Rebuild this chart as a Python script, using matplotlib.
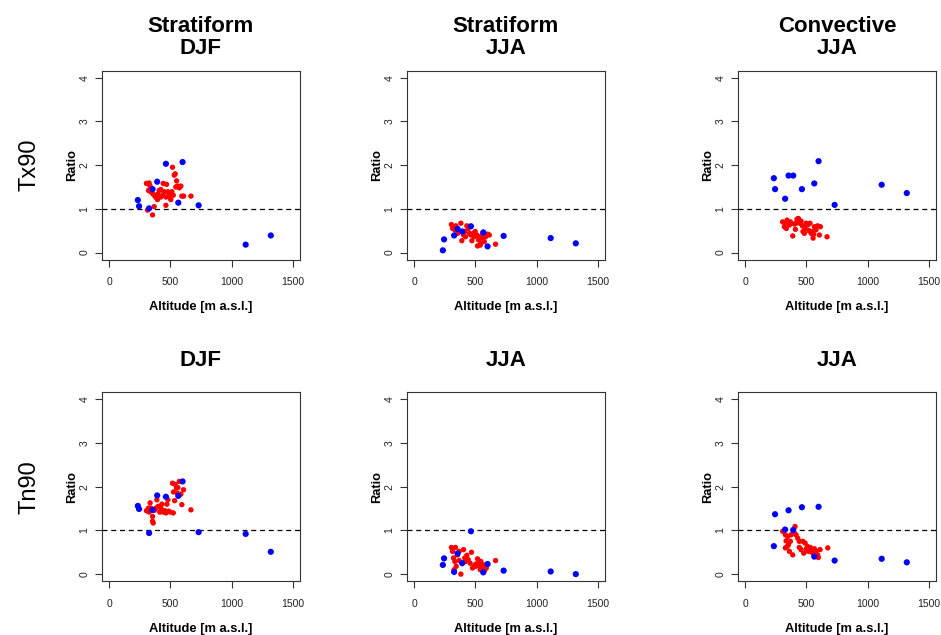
import matplotlib
matplotlib.use("Agg")
import matplotlib.pyplot as plt

plt.rcParams['font.family'] = ['Liberation Sans', 'DejaVu Sans']

# station altitudes (blue group, same 11 stations in every panel)
blue_alt = [235, 245, 327, 355, 393, 464, 565, 600, 731, 1115, 1320]

blue_tx_djf = [1.20, 1.06, 1.01, 1.45, 1.62, 2.03, 1.14, 2.07, 1.08, 0.18, 0.39]
blue_tx_jja = [0.05, 0.30, 0.39, 0.54, 0.48, 0.60, 0.46, 0.14, 0.38, 0.33, 0.21]
blue_tx_conv = [1.70, 1.45, 1.23, 1.76, 1.76, 1.45, 1.58, 2.09, 1.09, 1.55, 1.36]
blue_tn_djf = [1.56, 1.49, 0.94, 1.47, 1.80, 1.77, 1.79, 2.12, 0.96, 0.92, 0.51]
blue_tn_jja = [0.21, 0.36, 0.05, 0.47, 0.25, 0.98, 0.04, 0.23, 0.08, 0.06, 0.00]
blue_tn_conv = [0.64, 1.37, 1.02, 1.46, 1.01, 1.53, 0.40, 1.54, 0.31, 0.35, 0.27]

# red group, per panel
red_tx_djf_alt = [305, 327, 335, 322, 341, 355, 368, 382, 395, 409, 423, 442, 450, 464,
                  469, 480, 491, 504, 518, 524, 532, 540, 545, 551, 559, 573, 586, 594,
                  608, 668, 464, 368, 314, 355, 423, 491, 436, 341, 395, 513]
red_tx_djf = [1.58, 1.59, 1.52, 1.42, 1.39, 1.35, 1.31, 1.26, 1.33, 1.42, 1.44, 1.58, 1.39, 1.27,
              1.56, 1.39, 1.27, 1.21, 1.95, 1.31, 1.77, 1.80, 1.50, 1.64, 1.52, 1.48, 1.52, 1.29,
              1.29, 1.29, 1.08, 1.05, 0.97, 0.86, 1.27, 1.35, 1.31, 1.48, 1.21, 1.39]

red_tx_jja_alt = [305, 322, 333, 341, 355, 368, 382, 390, 404, 414, 431, 442, 453, 464,
                  472, 485, 499, 513, 518, 526, 535, 545, 554, 562, 573, 584, 600, 614,
                  665, 314, 349, 420, 491, 540]
red_tx_jja = [0.64, 0.59, 0.52, 0.61, 0.44, 0.48, 0.67, 0.27, 0.40, 0.48, 0.61, 0.55, 0.44, 0.40,
              0.27, 0.44, 0.48, 0.40, 0.15, 0.29, 0.36, 0.21, 0.33, 0.44, 0.25, 0.36, 0.42, 0.40,
              0.19, 0.55, 0.54, 0.36, 0.36, 0.17]

red_tx_conv_alt = [307, 327, 343, 321, 337, 354, 370, 389, 403, 411, 424, 435, 446, 457,
                   468, 473, 484, 498, 511, 522, 530, 539, 547, 555, 566, 579, 593, 607,
                   615, 669, 362, 416, 490, 560]
red_tx_conv = [0.70, 0.68, 0.74, 0.59, 0.55, 0.67, 0.70, 0.38, 0.65, 0.53, 0.76, 0.78, 0.67, 0.72,
               0.61, 0.48, 0.44, 0.67, 0.63, 0.50, 0.67, 0.44, 0.48, 0.33, 0.59, 0.52, 0.61, 0.40,
               0.59, 0.36, 0.63, 0.67, 0.55, 0.42]

red_tn_djf_alt = [305, 322, 335, 327, 341, 355, 355, 360, 382, 390, 401, 414, 431, 442,
                  453, 464, 472, 480, 485, 499, 518, 524, 526, 535, 540, 551, 562, 573,
                  586, 594, 608, 668, 423, 458, 371, 559]
red_tn_djf = [1.45, 1.51, 1.63, 1.42, 1.51, 1.32, 1.21, 1.17, 1.51, 1.70, 1.55, 1.42, 1.60, 1.42,
              1.45, 1.40, 1.60, 1.70, 1.44, 1.42, 2.08, 1.40, 1.88, 1.68, 2.05, 1.97, 1.98, 2.12,
              1.83, 1.59, 1.93, 1.47, 1.51, 1.44, 1.46, 1.85]

red_tn_jja_alt = [305, 338, 322, 333, 344, 327, 355, 368, 382, 404, 414, 431, 442, 458,
                  469, 477, 491, 504, 518, 526, 535, 545, 554, 567, 578, 589, 665, 314,
                  368, 420, 504, 540]
red_tn_jja = [0.61, 0.61, 0.37, 0.29, 0.18, 0.10, 0.44, 0.31, 0.00, 0.56, 0.37, 0.43, 0.33, 0.25,
              0.50, 0.14, 0.18, 0.23, 0.35, 0.25, 0.18, 0.29, 0.14, 0.21, 0.10, 0.14, 0.31, 0.52,
              0.52, 0.29, 0.18, 0.10]

red_tn_conv_alt = [307, 329, 348, 335, 329, 343, 354, 362, 389, 375, 403, 408, 416, 430,
                   443, 457, 471, 479, 490, 500, 511, 525, 533, 544, 552, 566, 579, 593,
                   598, 612, 675, 370, 443, 517]
red_tn_conv = [0.98, 0.90, 0.86, 0.76, 0.60, 0.63, 0.67, 0.52, 0.44, 0.90, 0.94, 1.09, 0.90, 0.82,
               0.61, 0.56, 0.75, 0.48, 0.71, 0.58, 0.63, 0.54, 0.61, 0.56, 0.48, 0.58, 0.53, 0.44,
               0.38, 0.56, 0.60, 0.75, 0.75, 0.52]

titles = [["Stratiform\nDJF", "Stratiform\nJJA", "Convective\nJJA"],
          ["DJF", "JJA", "JJA"]]
row_labels = ["Tx90", "Tn90"]

panels = [
    [(red_tx_djf_alt, red_tx_djf, blue_tx_djf),
     (red_tx_jja_alt, red_tx_jja, blue_tx_jja),
     (red_tx_conv_alt, red_tx_conv, blue_tx_conv)],
    [(red_tn_djf_alt, red_tn_djf, blue_tn_djf),
     (red_tn_jja_alt, red_tn_jja, blue_tn_jja),
     (red_tn_conv_alt, red_tn_conv, blue_tn_conv)],
]

W, H = 941, 635
fig = plt.figure(figsize=(W / 100, H / 100), dpi=100)

lefts = [101.7, 406.7, 737.7]
tops = [70.7, 392.3]
pw, ph = 198.5, 188.8

for r in range(2):
    for c in range(3):
        x0, y0 = lefts[c], tops[r]
        ax = fig.add_axes([x0 / W, 1 - (y0 + ph) / H, pw / W, ph / H])
        ra, rv, bv = panels[r][c]
        ax.axhline(1, color='black', linestyle=(0, (4, 3)), linewidth=0.9, zorder=1)
        ax.scatter(ra, rv, s=15, color='#ff0000', edgecolors='none', zorder=2)
        ax.scatter(blue_alt, bv, s=20, color='#0000ff', edgecolors='none', zorder=3)
        ax.set_xlim(-60, 1560)
        ax.set_ylim(-0.16, 4.16)
        ax.set_xticks([0, 500, 1000, 1500])
        ax.set_yticks([0, 1, 2, 3, 4])
        ax.tick_params(length=4.7, width=0.8, labelsize=7.5, color='#333333',
                       labelcolor='#222222')
        ax.tick_params(axis='x', pad=8)
        ax.tick_params(axis='y', pad=4)
        for lab in ax.get_yticklabels():
            lab.set_rotation(90)
            lab.set_va('center')
        for sp in ax.spines.values():
            sp.set_linewidth(0.8)
            sp.set_color('#333333')
        ax.set_xlabel("Altitude [m a.s.l.]", fontsize=9.3, fontweight='bold', labelpad=10)
        ax.set_ylabel("Ratio", fontsize=9.3, fontweight='bold', labelpad=1)

        cx = (x0 + pw / 2) / W
        if r == 0:
            top_line, bottom_line = titles[r][c].split("\n")
            fig.text(cx, 1 - 26 / H, top_line, ha='center', va='center',
                     fontsize=16, fontweight='bold')
            fig.text(cx, 1 - 48 / H, bottom_line, ha='center', va='center',
                     fontsize=16, fontweight='bold')
        else:
            fig.text(cx, 1 - 361 / H, titles[r][c], ha='center', va='center',
                     fontsize=16, fontweight='bold')

    fig.text(30 / W, 1 - (tops[r] + ph / 2) / H, row_labels[r], rotation=90,
             ha='center', va='center', fontsize=17)

fig.savefig("out.png", dpi=100)
